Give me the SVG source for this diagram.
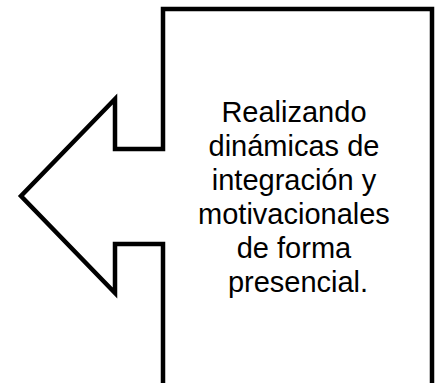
<svg xmlns="http://www.w3.org/2000/svg" width="442" height="383" viewBox="0 0 442 383">
  <style>
    .shape { fill: #ffffff; stroke: #000000; stroke-width: 4.5; stroke-linejoin: miter; stroke-miterlimit: 10; }
    .label { font-family: "Liberation Sans", Arial, sans-serif; font-size: 29px; fill: #000000; text-anchor: middle; }
  </style>
  <rect width="442" height="383" fill="#ffffff"/>
  <g id="callout">
    <path class="shape" d="M163,9 H432 V392 H163 V244 H115 V293 L21,196 L115,99 V149 H163 Z"/>
    <text class="label" x="298">
      <tspan x="298" y="122">Realizando</tspan>
      <tspan x="298" y="156">dinámicas de</tspan>
      <tspan x="298" y="190">integración y</tspan>
      <tspan x="298" y="224">motivacionales</tspan>
      <tspan x="298" y="258">de forma</tspan>
      <tspan x="298" y="292">presencial.</tspan>
    </text>
  </g>
</svg>
